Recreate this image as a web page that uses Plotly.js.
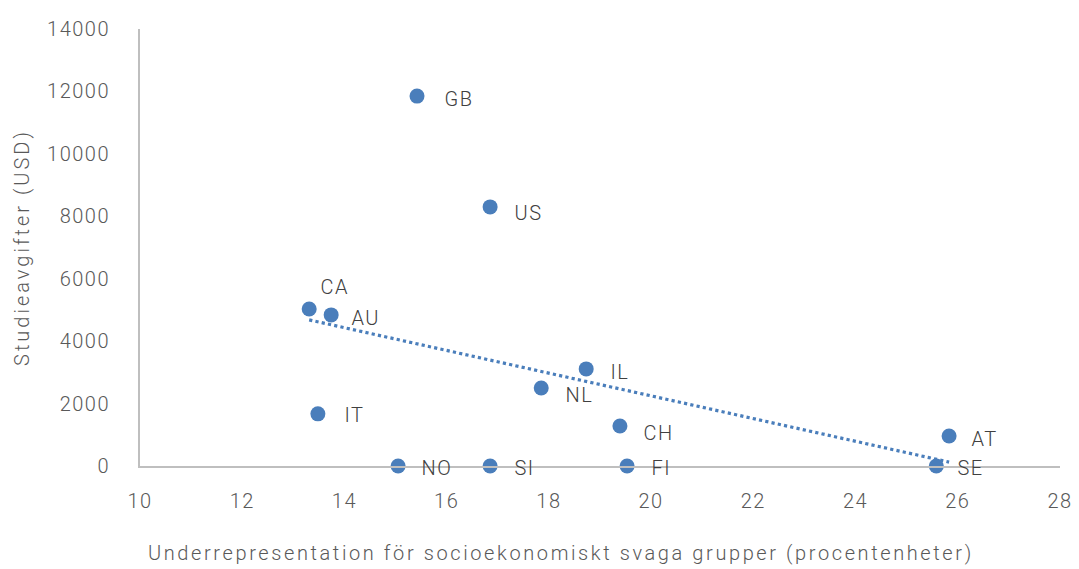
<!DOCTYPE html>
<html>
<head>
<meta charset="utf-8">
<script src="https://cdn.plot.ly/plotly-3.0.1.min.js"></script>
<style>
html,body{margin:0;padding:0;background:#fff;}
#chart{width:1079px;height:569px;}
.main-svg text{letter-spacing:1.5px;}
.ytitle{letter-spacing:3px !important;}
.annotation.xt text{letter-spacing:2.6px !important;}
</style>
</head>
<body>
<div id="chart"></div>
<script>
// Data
const countries = ['GB','US','CA','AU','IL','NL','IT','CH','AT','NO','SI','FI','SE'];
const underrep  = [15.42,16.85,13.31,13.74,18.73,17.85,13.48,19.39,25.83,15.05,16.85,19.53,25.58];
const fees      = [11850,8300,5030,4840,3110,2500,1670,1280,960,0,0,0,0];
const xTicks = [10,12,14,16,18,20,22,24,26,28];
const yTicks = [0,2000,4000,6000,8000,10000,12000,14000];
const xTitle = 'Underrepresentation för socioekonomiskt svaga grupper (procentenheter)';
const yTitle = 'Studieavgifter (USD)';

// Label placement (pixel offsets relative to each point)
const labelOffsets = {
  GB:[27,3], US:[24,6], CA:[11,-22], AU:[20,3], IL:[24,3], NL:[24,7],
  IT:[26,1], CH:[23,7], AT:[22,3], NO:[23,2], SI:[24,2], FI:[24,2], SE:[21,2]
};

// Linear trendline (least squares) computed from the data
const n = underrep.length;
const mx = underrep.reduce((a,b)=>a+b,0)/n;
const my = fees.reduce((a,b)=>a+b,0)/n;
let sxy=0, sxx=0;
for(let i=0;i<n;i++){ sxy+=(underrep[i]-mx)*(fees[i]-my); sxx+=(underrep[i]-mx)**2; }
const slope = sxy/sxx, icpt = my - slope*mx;
const xmin = Math.min(...underrep), xmax = Math.max(...underrep);
const trendX = [xmin, xmax];
const trendY = trendX.map(x=>icpt+slope*x);

const blue = '#4a7ebb';
const font = 'Roboto, "Open Sans", sans-serif';

const traces = [
  {x:trendX, y:trendY, mode:'lines', type:'scatter',
   line:{color:blue, width:3.2, dash:'dot'}, hoverinfo:'skip', showlegend:false},
  {x:underrep, y:fees, mode:'markers', type:'scatter', text:countries,
   marker:{color:blue, size:15}, showlegend:false, cliponaxis:false}
];

const annotations = countries.map((c,i)=>({
  x:underrep[i], y:fees[i], text:c, showarrow:false,
  xanchor:'left', yanchor:'middle',
  xshift:labelOffsets[c][0], yshift:-labelOffsets[c][1],
  font:{family:font, size:20, color:'#404040', weight:300}
}));
annotations.push({
  xref:'paper', yref:'paper', x:0.4576, y:-0.199, xanchor:'center', yanchor:'middle',
  text:xTitle, showarrow:false, font:{family:font, size:20, color:'#595959', weight:300}
});

const layout = {
  width:1079, height:569,
  margin:{l:140, r:19, t:29, b:103},
  paper_bgcolor:'#fff', plot_bgcolor:'#fff',
  font:{family:font, color:'#595959', size:20, weight:300},
  xaxis:{range:[10,28], tickvals:xTicks, ticktext:xTicks.map(String),
    showgrid:false, zeroline:false, showline:true, linecolor:'#bfbfbf', linewidth:2,
    ticks:'', ticklabelstandoff:16, tickfont:{size:20, color:'#595959', weight:300}},
  yaxis:{range:[0,14000], tickvals:yTicks, ticktext:yTicks.map(String),
    showgrid:false, zeroline:false, showline:true, linecolor:'#bfbfbf', linewidth:2,
    ticks:'', ticklabelstandoff:24, tickfont:{size:20, color:'#595959', weight:300},
    title:{text:yTitle, font:{size:20, color:'#595959', weight:300}, standoff:20}},
  annotations:annotations
};

Plotly.newPlot('chart', traces, layout, {displayModeBar:false, staticPlot:true}).then(()=>{
  const ann = document.querySelectorAll('.annotation');
  ann[ann.length-1].classList.add('xt');
});
</script>
</body>
</html>
